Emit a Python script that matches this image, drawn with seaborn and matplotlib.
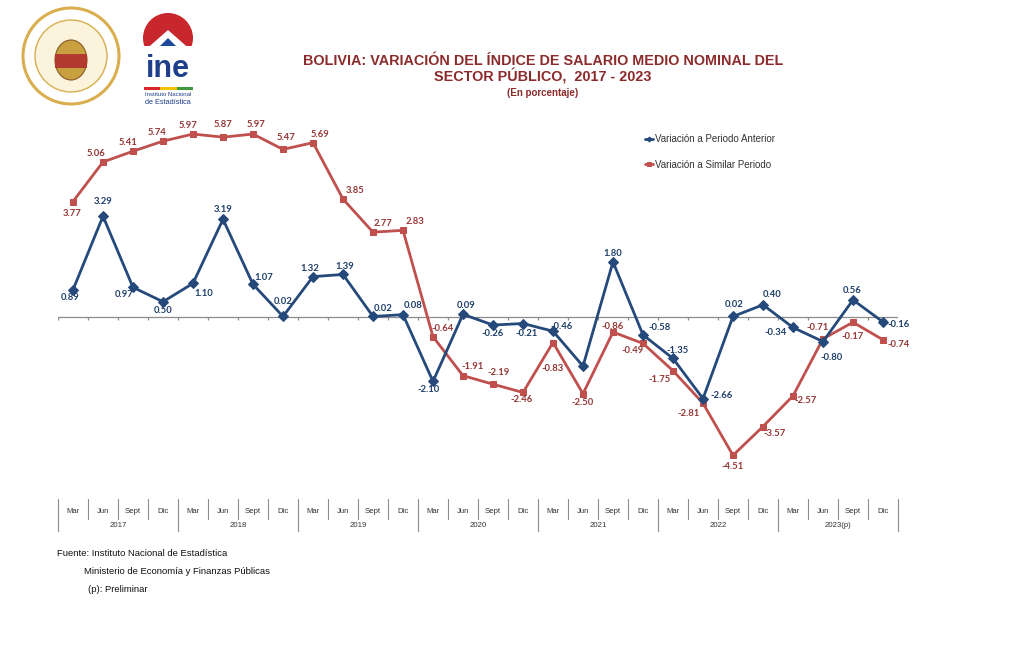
import numpy as np
import pandas as pd
import matplotlib
matplotlib.use("Agg")
import matplotlib.pyplot as plt
import seaborn as sns
from matplotlib.patches import Ellipse, Polygon, Rectangle

# ---------------------------------------------------------------
# Datos
# ---------------------------------------------------------------
anios = ["2017", "2018", "2019", "2020", "2021", "2022", "2023(p)"]
trimestres = ["Mar", "Jun", "Sept", "Dic"]

periodo_anterior = [0.89, 3.29, 0.97, 0.50, 1.10, 3.19, 1.07, 0.02,
                    1.32, 1.39, 0.02, 0.08, -2.10, 0.09, -0.26, -0.21,
                    -0.46, -1.60, 1.80, -0.58, -1.35, -2.66, 0.02, 0.40,
                    -0.34, -0.80, 0.56, -0.16]
# posicion de los puntos tal como se ven en el grafico
similar_periodo = [3.77, 5.06, 5.41, 5.74, 5.97, 5.87, 5.97, 5.47,
                   5.69, 3.85, 2.77, 2.83, -0.64, -1.91, -2.19, -2.46,
                   -0.83, -2.50, -0.49, -0.86, -1.75, -2.81, -4.51, -3.57,
                   -2.57, -0.71, -0.17, -0.74]
# en el original las etiquetas de Sept y Dic 2021 estan intercambiadas
texto_similar = {18: "-0.86", 19: "-0.49"}
# el punto Jun 2021 de la serie azul no tiene etiqueta en el original
sin_etiqueta_anterior = [17]

# desplazamiento de las etiquetas (pixeles, x derecha / y abajo)
desp_anterior = [(-3, 8), (0, -15), (-9, 7), (0, 9), (11, 10), (0, -10), (11, -7), (0, -15),
                 (-3, -8), (2, -8), (10, -8), (10, -9), (-4, 8), (3, -9), (0, 8), (4, 10),
                 (9, -5), (0, 0), (0, -8), (17, -7), (5, -8), (19, -3), (1, -12), (9, -10),
                 (-17, 5), (9, 16), (-1, -9), (16, 3)]
desp_similar = [(-1, 12), (-7, -8), (-5, -9), (-6, -9), (-5, -9), (0, -13), (3, -10), (3, -12),
                (7, -8), (12, -9), (10, -9), (12, -9), (10, -8), (10, -9), (6, -12), (-1, 7),
                (0, 26), (0, 9), (0, -6), (-10, 7), (-13, 9), (-14, 10), (0, 11), (12, 7),
                (13, 5), (-5, -11), (0, 14), (16, 5)]

AZUL = "#24497A"
ROJO = "#C0504D"
AZUL_TXT = "#1F3F6B"
ROJO_TXT = "#953735"

W, H = 1020, 646

def fx(x):
    return x / W

def fy(y):
    return 1 - y / H

sns.set_theme(style="white")
plt.rcParams["font.family"] = ["Liberation Sans", "DejaVu Sans"]

fig = plt.figure(figsize=(W / 100, H / 100), dpi=100)
fig.patch.set_facecolor("white")

# area del grafico: x de 58 a 898 px, y de 102.5 a 501 px
ax = fig.add_axes([fx(58), fy(501), fx(898) - fx(58), fy(102.5) - fy(501)])
ax.set_facecolor("white")

n = len(periodo_anterior)
idx = np.arange(n)
df = pd.DataFrame({"idx": idx, "anterior": periodo_anterior, "similar": similar_periodo})

sns.lineplot(data=df, x="idx", y="similar", ax=ax, color=ROJO, lw=2,
             marker="s", markersize=5, markeredgecolor=ROJO, zorder=3,
             label="Variación a Similar Periodo")
sns.lineplot(data=df, x="idx", y="anterior", ax=ax, color=AZUL, lw=2,
             marker="D", markersize=5, markeredgecolor=AZUL, zorder=4,
             label="Variación a Periodo Anterior")

ax.set_xlim(-0.5, n - 0.5)
ax.set_ylim(-6, 7)
ax.set_xlabel("")
ax.set_ylabel("")
ax.set_xticks([])
ax.set_yticks([])
for s in ax.spines.values():
    s.set_visible(False)

# eje en cero con marcas
ax.axhline(0, color="#8C8C8C", lw=0.9, zorder=1)
ax.vlines(np.arange(n + 1) - 0.5, -0.09, 0, color="#8C8C8C", lw=0.9, zorder=1)

# etiquetas de datos
for i, v in enumerate(periodo_anterior):
    if i in sin_etiqueta_anterior:
        continue
    dx, dy = desp_anterior[i]
    ax.annotate(f"{v:.2f}", (i, v), xytext=(dx, -dy), textcoords="offset pixels",
                ha="center", va="center", fontsize=6.8, fontweight="bold",
                color=AZUL_TXT, family=["Lato", "DejaVu Sans"], zorder=5)
for i, v in enumerate(similar_periodo):
    dx, dy = desp_similar[i]
    ax.annotate(texto_similar.get(i, f"{v:.2f}"), (i, v), xytext=(dx, -dy),
                textcoords="offset pixels", ha="center", va="center", fontsize=6.8,
                fontweight="bold", color=ROJO_TXT, family=["Lato", "DejaVu Sans"], zorder=5)

# tabla de categorias debajo del grafico
trans = ax.get_xaxis_transform()
for k in range(n):
    ax.text(k, -0.026, trimestres[k % 4], transform=trans, ha="center", va="center",
            fontsize=5.6, color="#333333", clip_on=False)
for j, anio in enumerate(anios):
    ax.text(4 * j + 1.5, -0.061, anio, transform=trans, ha="center", va="center",
            fontsize=5.6, color="#333333", clip_on=False)
for k in range(n + 1):
    fondo = -0.075 if k % 4 == 0 else -0.045
    ax.plot([k - 0.5, k - 0.5], [0.004, fondo], transform=trans, color="#8C8C8C",
            lw=0.8, clip_on=False)

# leyenda
handles, labels = ax.get_legend_handles_labels()
orden = [1, 0]
leg = ax.legend([handles[i] for i in orden], [labels[i] for i in orden],
                loc="center left", bbox_to_anchor=(fx(636), fy(152)),
                bbox_transform=fig.transFigure, frameon=False, fontsize=7,
                handlelength=0.8, handletextpad=0.3, labelspacing=1.55,
                markerscale=0.5)
for t in leg.get_texts():
    t.set_color("#333333")
for h in leg.legend_handles:
    h.set_linewidth(2)

# titulos
TIT = "#8B2B2B"
fuente_tit = ["Liberation Sans Narrow", "Liberation Sans", "DejaVu Sans"]
fig.text(fx(543), fy(61), "BOLIVIA: VARIACIÓN DEL ÍNDICE DE SALARIO MEDIO NOMINAL DEL",
         ha="center", va="center", fontsize=10.4, fontweight="bold", color=TIT, family=fuente_tit)
fig.text(fx(543), fy(77), "SECTOR PÚBLICO,  2017 - 2023",
         ha="center", va="center", fontsize=10.4, fontweight="bold", color=TIT, family=fuente_tit)
fig.text(fx(543), fy(93), "(En porcentaje)",
         ha="center", va="center", fontsize=7, fontweight="bold", color=TIT, family=fuente_tit)

# fuente
fig.text(fx(57), fy(553), "Fuente: Instituto Nacional de Estadística",
         ha="left", va="center", fontsize=6.8, color="#111111")
fig.text(fx(84), fy(572), "Ministerio de Economía y Finanzas Públicas",
         ha="left", va="center", fontsize=6.8, color="#111111")
fig.text(fx(88), fy(590), "(p): Preliminar",
         ha="left", va="center", fontsize=6.8, color="#111111")

# logos (aproximacion sencilla)
fig.patches.append(Ellipse((fx(71), fy(56)), 2 * 48 / W, 2 * 48 / H, transform=fig.transFigure,
                           facecolor="white", edgecolor="#D9AE4E", lw=2.2))
fig.patches.append(Ellipse((fx(71), fy(56)), 2 * 36 / W, 2 * 36 / H, transform=fig.transFigure,
                           facecolor="#FBF3DC", edgecolor="#D9AE4E", lw=1))
fig.patches.append(Ellipse((fx(71), fy(60)), 2 * 16 / W, 2 * 20 / H, transform=fig.transFigure,
                           facecolor="#C8A040", edgecolor="#8A5A20", lw=0.8))
fig.patches.append(Rectangle((fx(55), fy(68)), 32 / W, 14 / H, transform=fig.transFigure,
                             facecolor="#B23A2E", edgecolor="none"))

fig.patches.append(Ellipse((fx(168), fy(38)), 2 * 25 / W, 2 * 25 / H, transform=fig.transFigure,
                           facecolor="#C8272D", edgecolor="none"))
fig.patches.append(Polygon([(fx(168), fy(30)), (fx(143), fy(52)), (fx(193), fy(52))],
                           closed=True, transform=fig.transFigure, facecolor="white", edgecolor="none"))
fig.patches.append(Polygon([(fx(168), fy(38)), (fx(154), fy(52)), (fx(182), fy(52))],
                           closed=True, transform=fig.transFigure, facecolor="#1F4A9A", edgecolor="none"))
fig.patches.append(Rectangle((fx(140), fy(66)), 60 / W, 20 / H, transform=fig.transFigure,
                             facecolor="white", edgecolor="none"))
fig.text(fx(168), fy(69), "ine", ha="center", va="center", fontsize=22, fontweight="bold",
         color="#1F3F8C", family=["Liberation Sans", "DejaVu Sans"])
for j, c in enumerate(["#D62828", "#F2C200", "#3C9A3C"]):
    fig.patches.append(Rectangle((fx(144 + j * 16.5), fy(90)), 16.5 / W, 2.5 / H,
                                 transform=fig.transFigure, facecolor=c, edgecolor="none"))
fig.text(fx(168), fy(95), "Instituto Nacional", ha="center", va="center", fontsize=4.3,
         color="#1F3F8C", family=["Liberation Sans Narrow", "Liberation Sans"])
fig.text(fx(168), fy(102), "de Estadística", ha="center", va="center", fontsize=5.3,
         color="#1F3F8C", family=["Liberation Sans Narrow", "Liberation Sans"])

fig.savefig("out.png", dpi=100, facecolor="white")
